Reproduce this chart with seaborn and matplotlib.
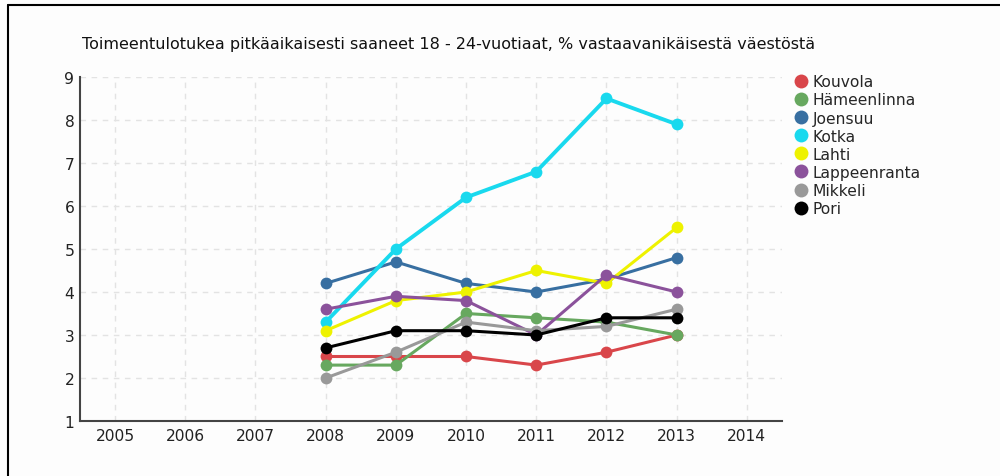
import pandas as pd
import seaborn as sns
import matplotlib.pyplot as plt
from matplotlib.lines import Line2D
from matplotlib.patches import Rectangle

# data
years = [2008, 2009, 2010, 2011, 2012, 2013]
cities = ["Kouvola", "Hämeenlinna", "Joensuu", "Kotka", "Lahti",
          "Lappeenranta", "Mikkeli", "Pori"]
kouvola = [2.5, 2.5, 2.5, 2.3, 2.6, 3.0]
hameenlinna = [2.3, 2.3, 3.5, 3.4, 3.3, 3.0]
joensuu = [4.2, 4.7, 4.2, 4.0, 4.3, 4.8]
kotka = [3.3, 5.0, 6.2, 6.8, 8.5, 7.9]
lahti = [3.1, 3.8, 4.0, 4.5, 4.2, 5.5]
lappeenranta = [3.6, 3.9, 3.8, 3.0, 4.4, 4.0]
mikkeli = [2.0, 2.6, 3.3, 3.1, 3.2, 3.6]
pori = [2.7, 3.1, 3.1, 3.0, 3.4, 3.4]
colors = ["#d9464a", "#67a85f", "#386fa1", "#19d9ee", "#eef200",
          "#8b529b", "#999999", "#000000"]
title = "Toimeentulotukea pitkäaikaisesti saaneet 18 - 24-vuotiaat, % vastaavanikäisestä väestöstä"

series = [kouvola, hameenlinna, joensuu, kotka, lahti, lappeenranta, mikkeli, pori]
rows = []
for c, vals in zip(cities, series):
    for y, v in zip(years, vals):
        rows.append({"city": c, "year": y, "value": v})
df = pd.DataFrame(rows)

sns.set_style("white")
plt.rcParams["font.family"] = ["DejaVu Sans"]
plt.rcParams["hatch.color"] = "#e8e8e8"
plt.rcParams["hatch.linewidth"] = 0.6

fig = plt.figure(figsize=(10, 4.77), dpi=100)
fig.patch.set_facecolor("white")
bg = Rectangle((0, 0), 1, 1, transform=fig.transFigure, facecolor="#fdfdfd",
               edgecolor="none", hatch="//////", zorder=-10)
fig.patches.append(bg)
# frame lines top / left
fig.add_artist(Line2D([0.008, 1], [0.987, 0.987], color="black", lw=1.5))
fig.add_artist(Line2D([0.008, 0.008], [0, 0.987], color="black", lw=1.5))

ax = fig.add_axes([0.08, 0.1153, 0.702, 0.7212])
ax.patch.set_alpha(0)

pal = dict(zip(cities, colors))
sns.lineplot(data=df, x="year", y="value", hue="city", palette=pal,
             marker="o", markersize=8.5, markeredgewidth=0, linewidth=2.2,
             legend=False, ax=ax)
for line in ax.lines:
    if line.get_color() == colors[3]:
        line.set_linewidth(2.8)

ax.set_xlim(2004.5, 2014.5)
ax.set_ylim(1, 9)
ax.set_xticks(range(2005, 2015))
ax.set_yticks(range(1, 10))
ax.set_xlabel("")
ax.set_ylabel("")
ax.grid(True, linestyle=(0, (4, 4)), color="#e3e3e3", linewidth=1)
for s in ["top", "right"]:
    ax.spines[s].set_visible(False)
for s in ["left", "bottom"]:
    ax.spines[s].set_color("#444444")
    ax.spines[s].set_linewidth(1.5)
ax.tick_params(axis="both", length=3, width=1, color="#444444", labelsize=11.2,
               labelcolor="#222222", pad=2)
ax.tick_params(axis="y", pad=1)

fig.text(0.082, 0.897, title, fontsize=11.5, color="#111111")

handles = [Line2D([], [], marker="o", linestyle="none", markersize=10,
                  markerfacecolor=c, markeredgewidth=0) for c in colors]
fig.legend(handles, cities, loc="upper left", bbox_to_anchor=(0.785, 0.855),
           frameon=False, handletextpad=0.2, labelspacing=0.2, fontsize=11.2,
           handlelength=1.2, borderaxespad=0)

fig.savefig("out.png", dpi=100)
